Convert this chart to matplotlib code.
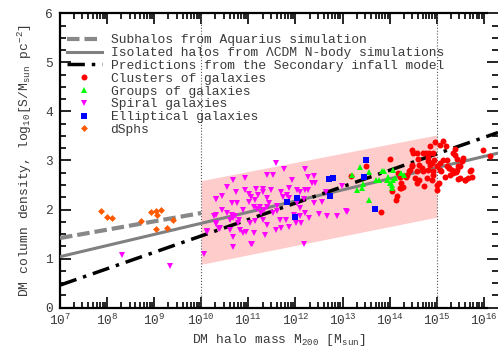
import numpy as np
import matplotlib
matplotlib.use('Agg')
import matplotlib.pyplot as plt
from matplotlib.ticker import LogLocator, MultipleLocator, FuncFormatter, NullFormatter

plt.rcParams['font.family'] = ['Liberation Mono', 'DejaVu Sans']
plt.rcParams['mathtext.fontset'] = 'custom'
plt.rcParams['mathtext.rm'] = 'Liberation Mono'
plt.rcParams['mathtext.it'] = 'Liberation Mono'
plt.rcParams['mathtext.bf'] = 'Liberation Mono:bold'

'''model curves (log10 M, log10 S)'''
aq_lgm = [7.0, 10.0]
aq_val = [1.42, 1.93]
iso_lgm = [7.0, 16.3]
iso_val = [1.04, 3.15]
sim_lgm = [7.0, 16.3]
sim_val = [0.46, 3.57]

band_lgm = [10.0, 15.0]
band_lo = [0.885, 1.845]
band_hi = [2.59, 3.52]

'''observations'''
dsph_lgm = [7.87, 7.99, 8.10, 8.72, 8.93, 9.04, 9.07, 9.15, 9.04, 9.27, 9.39]
dsph_val = [1.98, 1.85, 1.83, 1.76, 1.95, 1.97, 1.89, 1.99, 1.61, 1.63, 1.79]

spiral_lgm = [8.31, 9.34, 10.05, 10.13, 10.31, 10.31, 10.31, 10.38,
              11.59, 11.40, 11.53, 11.76, 12.20, 12.40, 11.92, 12.27, 12.36, 12.41,
              10.68, 10.93, 10.54, 10.73, 10.93, 11.01, 11.16, 11.32, 11.30, 11.49,
              11.69, 11.86, 12.03, 12.10, 12.20, 12.27, 12.65,
              10.31, 10.45, 10.65, 10.75, 11.02, 11.05, 11.14, 11.21, 11.39, 11.44,
              11.61, 11.73, 11.83, 11.86, 12.04, 12.10, 12.18, 12.39, 12.56,
              13.07, 12.89, 12.66, 12.49, 12.29, 12.20,
              10.45, 10.28, 10.54, 10.65, 10.68, 10.89, 11.11, 11.18, 11.25, 11.33,
              11.52, 11.61, 11.26, 11.40, 11.67, 11.80, 11.97, 12.10, 12.12, 11.87, 12.01,
              10.13, 10.40, 10.61, 10.82, 10.89, 11.03, 11.14, 11.30, 11.39, 11.59,
              11.69, 11.35, 11.11, 10.95, 10.77, 10.68, 11.06, 10.67, 12.19,
              10.31, 10.61, 10.81, 10.72, 13.09, 12.98, 11.07]
spiral_val = [1.08, 0.84, 1.09, 1.57, 2.22, 1.89, 1.73, 1.60,
              2.95, 2.71, 2.71, 2.82, 2.82, 2.69, 2.61, 2.66, 2.55, 2.54,
              2.61, 2.64, 2.45, 2.35, 2.39, 2.32, 2.42, 2.42, 2.35, 2.40,
              2.35, 2.44, 2.39, 2.35, 2.39, 2.40, 2.35,
              2.22, 2.27, 2.13, 2.13, 2.16, 2.25, 2.20, 2.29, 2.23, 2.14,
              2.08, 2.25, 2.30, 2.23, 2.13, 2.03, 2.21, 2.14, 2.16,
              1.98, 1.86, 1.87, 1.90, 1.82, 1.93,
              1.99, 1.87, 1.93, 1.89, 1.82, 1.99, 2.05, 2.01, 2.05, 1.99,
              1.94, 1.98, 1.93, 2.05, 1.79, 1.79, 1.89, 1.87, 1.72, 1.65, 1.72,
              1.55, 1.62, 1.59, 1.59, 1.52, 1.72, 1.76, 1.79, 1.69, 1.59,
              1.62, 1.48, 1.52, 1.55, 1.72, 1.45, 1.30, 1.23, 1.30,
              1.70, 1.79, 1.78, 1.86, 1.96, 2.48, 1.30]

ell_lgm = [11.81, 12.03, 11.98, 12.72, 12.79, 12.73, 13.45, 13.69, 13.49]
ell_val = [2.16, 2.24, 1.84, 2.63, 2.65, 2.27, 2.67, 2.02, 3.00]

grp_lgm = [13.19, 13.37, 13.30, 13.41, 13.43, 13.57, 13.57, 13.72, 13.78, 13.83,
           13.88, 13.94, 13.97, 14.01, 14.04, 14.06, 14.08, 14.11, 14.25, 14.30, 14.04]
grp_val = [2.71, 2.87, 2.39, 2.44, 2.53, 2.76, 2.20, 2.61, 2.61, 2.78,
           2.78, 2.61, 2.67, 2.54, 2.44, 2.80, 2.61, 2.64, 2.74, 2.71, 2.50]

clu_lgm = [13.18, 13.50, 14.01, 13.81, 14.13, 14.04, 14.22, 14.23, 14.21, 14.18,
           14.36, 14.40, 14.47, 14.47, 14.49, 14.61, 14.63, 14.70, 14.77, 14.84,
           14.91, 14.82, 14.86, 14.96, 15.14, 15.20, 15.07, 15.39, 15.39, 15.42,
           15.22, 15.25, 15.32, 15.07, 15.07, 15.01, 15.10, 14.93, 14.82, 14.80,
           14.71, 14.68, 14.57, 14.63, 14.54, 14.59, 14.73, 14.89, 14.93, 15.00,
           14.86, 14.94, 14.82, 14.57, 14.47, 14.35, 14.43, 14.29, 14.25, 14.15,
           15.21, 15.28, 15.46, 15.53, 15.46, 15.60, 15.67, 15.74, 15.72, 15.55,
           15.99, 16.13, 15.41, 15.14, 15.18, 15.00, 15.35, 15.49, 15.70, 15.60,
           15.25, 15.35, 15.42, 15.49, 14.90, 15.05]
clu_val = [2.69, 2.88, 3.03, 1.95, 2.20, 2.37, 2.44, 2.54, 2.67, 2.74,
           2.71, 2.78, 2.91, 3.21, 3.15, 3.04, 2.91, 3.15, 3.15, 3.15,
           3.15, 2.98, 3.30, 3.37, 3.39, 3.30, 3.32, 3.24, 3.12, 3.03,
           3.02, 2.84, 2.80, 2.95, 2.81, 2.50, 2.78, 2.78, 2.81, 2.64,
           2.78, 2.84, 2.78, 2.61, 2.64, 2.54, 2.48, 2.61, 2.71, 2.88,
           2.91, 3.02, 3.07, 3.16, 2.88, 2.66, 2.81, 2.46, 2.44, 2.27,
           2.88, 2.71, 2.89, 2.98, 2.63, 2.61, 2.64, 2.67, 2.80, 3.05,
           3.22, 3.10, 2.76, 3.02, 2.67, 2.40, 3.15, 2.88, 2.78, 2.61,
           2.85, 2.74, 2.81, 2.64, 2.95, 2.55]

txt = '#3a3a3a'

fig = plt.figure(figsize=(4.98, 3.48), dpi=100)
ax = fig.add_axes([0.1205, 0.1158, 0.8795, 0.846])

ax.fill_between(10**np.array(band_lgm), band_lo, band_hi, color='#ffcccc', lw=0, zorder=1)
for v in [1e10, 1e15]:
    ax.axvline(v, color='#555555', ls=':', lw=0.8, zorder=2)

ax.plot(10**np.array(aq_lgm), aq_val, color='#888888', ls=(0, (3, 1.2)), lw=3.0,
        label='Subhalos from Aquarius simulation', zorder=3)
ax.plot(10**np.array(iso_lgm), iso_val, color='#808080', ls='-', lw=2.2,
        label='Isolated halos from \u039bCDM N-body simulations', zorder=3)
ax.plot(10**np.array(sim_lgm), sim_val, color='black', ls=(0, (5, 2, 1, 2)), lw=2.5,
        label='Predictions from the Secondary infall model', zorder=3)

ax.plot(10**np.array(clu_lgm), clu_val, 'o', color='#ff0000', ms=4.3, mew=0,
        label='Clusters of galaxies', zorder=4)
ax.plot(10**np.array(grp_lgm), grp_val, '^', color='#00ff00', ms=4.3, mew=0,
        label='Groups of galaxies', zorder=5)
ax.plot(10**np.array(spiral_lgm), spiral_val, 'v', color='#ff00ff', ms=4.3, mew=0,
        label='Spiral galaxies', zorder=4)
ax.plot(10**np.array(ell_lgm), ell_val, 's', color='#0000ff', ms=4.3, mew=0,
        label='Elliptical galaxies', zorder=5)
ax.plot(10**np.array(dsph_lgm), dsph_val, 'D', color='#ff5a00', ms=3.5, mew=0,
        label='dSphs', zorder=4)

ax.set_xscale('log')
ax.set_xlim(1e7, 10**16.3)
ax.set_ylim(0, 6)

ax.xaxis.set_major_locator(LogLocator(base=10, numticks=20))
ax.xaxis.set_minor_locator(LogLocator(base=10, subs=np.arange(2, 10), numticks=20))
ax.xaxis.set_major_formatter(FuncFormatter(lambda v, p: r'$\mathregular{10^{%d}}$' % round(np.log10(v))))
ax.xaxis.set_minor_formatter(NullFormatter())
ax.yaxis.set_major_locator(MultipleLocator(1))
ax.yaxis.set_minor_locator(MultipleLocator(0.25))

ax.tick_params(which='both', direction='in', top=True, right=True, colors='black',
               labelcolor=txt, labelsize=9.2)
ax.tick_params(which='major', length=8, width=1.2)
ax.tick_params(which='minor', length=4.3, width=1.2)
ax.tick_params(axis='y', pad=5)
ax.tick_params(axis='x', pad=4)

for s in ['left', 'bottom', 'top']:
    ax.spines[s].set_linewidth(1.6)
ax.spines['right'].set_visible(False)
ax.spines['top'].set_bounds(1e7, 10**16.06)
ax.spines['bottom'].set_bounds(1e7, 10**16.06)

ax.set_xlabel(r'DM halo mass M$_{200}$ [M$_{sun}$]', color=txt, fontsize=9.4, va='center')
ax.set_ylabel(r'DM column density, log$_{10}$[S/M$_{sun}$ pc$^{-2}$]', color=txt,
              fontsize=9.4, va='center')
ax.xaxis.set_label_coords(0.5, -0.11)
ax.yaxis.set_label_coords(-0.08, 0.5)

leg = ax.legend(loc='upper left', bbox_to_anchor=(0.0, 0.951), frameon=False,
                fontsize=9.4, handlelength=2.68, handletextpad=0.69,
                labelspacing=0.05, borderaxespad=0.3, borderpad=0.2)
for t in leg.get_texts():
    t.set_color(txt)

fig.savefig('out.png', dpi=100)
